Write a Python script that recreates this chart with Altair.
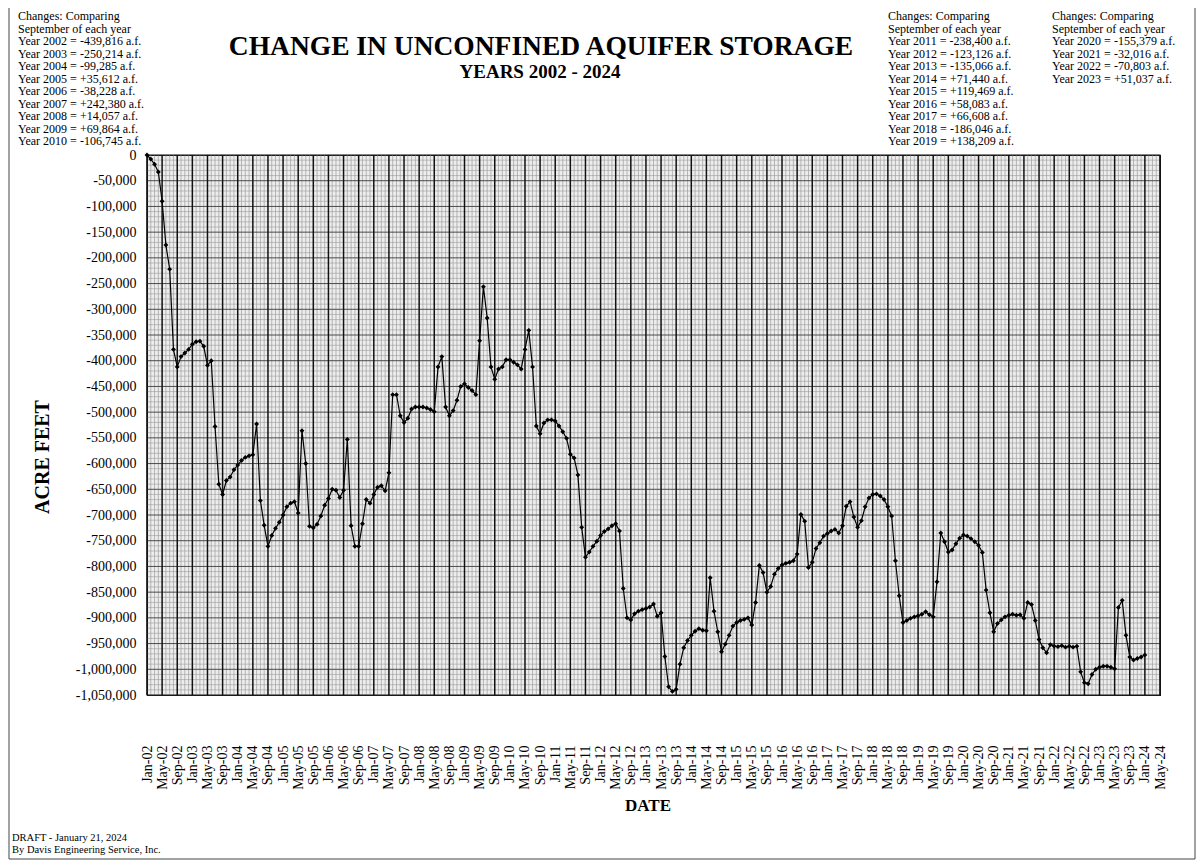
import json
import altair as alt
import pandas as pd

MONTHS = ["Jan", "Feb", "Mar", "Apr", "May", "Jun", "Jul", "Aug", "Sep", "Oct", "Nov", "Dec"]
FIRST_YEAR = 2002

# Cumulative change in storage, thousands of acre-feet, monthly from January of each year
Y2002 = [0, -8, -18, -33, -90, -175, -222, -378, -412, -392, -385, -378]
Y2003 = [-368, -363, -362, -372, -409, -400, -528, -640, -660, -633, -626, -612]
Y2004 = [-603, -594, -588, -585, -583, -523, -672, -720, -761, -740, -726, -714]
Y2005 = [-700, -684, -677, -674, -696, -536, -600, -722, -725, -718, -702, -681]
Y2006 = [-668, -650, -652, -666, -652, -553, -721, -761, -761, -717, -670, -677]
Y2007 = [-660, -646, -643, -653, -618, -466, -466, -507, -520, -512, -494, -490]
Y2008 = [-490, -490, -492, -495, -499, -412, -392, -490, -507, -497, -477, -450]
Y2009 = [-445, -452, -458, -466, -361, -256, -317, -412, -436, -416, -412, -398]
Y2010 = [-398, -403, -408, -416, -378, -341, -412, -527, -542, -521, -515, -515]
Y2011 = [-517, -527, -538, -551, -582, -589, -622, -724, -782, -772, -761, -751]
Y2012 = [-740, -732, -727, -721, -717, -731, -843, -900, -904, -892, -887, -884]
Y2013 = [-882, -879, -873, -897, -890, -975, -1034, -1043, -1039, -990, -958, -944]
Y2014 = [-934, -926, -921, -924, -925, -822, -887, -927, -966, -951, -934, -916]
Y2015 = [-909, -905, -903, -900, -914, -870, -798, -812, -850, -839, -815, -804]
Y2016 = [-797, -794, -792, -789, -776, -699, -712, -802, -792, -765, -754, -741]
Y2017 = [-736, -731, -728, -735, -721, -683, -674, -704, -724, -711, -684, -667]
Y2018 = [-660, -659, -663, -670, -684, -702, -789, -857, -909, -905, -901, -898]
Y2019 = [-896, -893, -888, -894, -898, -830, -735, -752, -772, -768, -756, -745]
Y2020 = [-739, -741, -746, -752, -759, -773, -846, -890, -927, -911, -904, -898]
Y2021 = [-895, -893, -895, -894, -901, -870, -874, -905, -942, -958, -968, -952]
Y2022 = [-955, -956, -954, -957, -955, -957, -955, -1005, -1026, -1028, -1010, -1000]
Y2023 = [-996, -994, -994, -996, -999, -880, -866, -934, -976, -982, -979, -976]
Y2024 = [-972]

YEARS = [Y2002, Y2003, Y2004, Y2005, Y2006, Y2007, Y2008, Y2009, Y2010, Y2011, Y2012,
         Y2013, Y2014, Y2015, Y2016, Y2017, Y2018, Y2019, Y2020, Y2021, Y2022, Y2023, Y2024]

LAST_MONTH = 268  # May-24, right edge of the axis
X_TICKS = list(range(0, LAST_MONTH + 1, 4))
TICK_LABELS = [f"{MONTHS[i % 12]}-{(FIRST_YEAR + i // 12) % 100:02d}" for i in X_TICKS]
Y_TICKS = list(range(0, -1050001, -50000))
Y_MINOR = [-i * 10000 for i in range(1, 105) if i % 5]
X_MINOR = [i for i in range(1, LAST_MONTH) if i % 4]

TITLE = "CHANGE IN UNCONFINED AQUIFER STORAGE"
SUBTITLE = "YEARS 2002 - 2024"
Y_TITLE = "ACRE FEET"
X_TITLE = "DATE"

NOTE_LEFT = ["Changes: Comparing", "September of each year",
             "Year 2002 = -439,816 a.f.", "Year 2003 = -250,214 a.f.",
             "Year 2004 =  -99,285 a.f.", "Year 2005 =  +35,612 a.f.",
             "Year 2006 =  -38,228 a.f.", "Year 2007 = +242,380 a.f.",
             "Year 2008 = +14,057 a.f.", "Year 2009 = +69,864 a.f.",
             "Year 2010 = -106,745 a.f."]
NOTE_MID = ["Changes: Comparing", "September of each year",
            " Year 2011 = -238,400 a.f.", " Year 2012 = -123,126 a.f.",
            " Year 2013 = -135,066 a.f.", " Year 2014 = +71,440 a.f.",
            " Year 2015 = +119,469 a.f.", " Year 2016 = +58,083 a.f.",
            " Year 2017 = +66,608 a.f.", " Year 2018 = -186,046 a.f.",
            " Year 2019 = +138,209 a.f."]
NOTE_RIGHT = ["Changes: Comparing", "September of each year",
              " Year 2020 = -155,379 a.f.", " Year 2021 = -32,016 a.f.",
              " Year 2022 = -70,803 a.f.", " Year 2023 = +51,037 a.f."]
FOOTER = ["DRAFT - January 21, 2024", "By Davis Engineering Service, Inc."]

FONT = "Liberation Serif"

storage = [v * 1000 for yr in YEARS for v in yr]
df = pd.DataFrame({"m": list(range(len(storage))), "v": storage})

x_scale = alt.Scale(domain=[0, LAST_MONTH], nice=False, zero=False)
y_scale = alt.Scale(domain=[-1050000, 0], nice=False, zero=False)

x_axis = alt.Axis(values=X_TICKS, labelExpr=json.dumps(TICK_LABELS) + "[round(datum.value / 4)]",
                  labelAngle=270, labelFont=FONT, labelFontSize=14, labelColor="black",
                  labelPadding=50, ticks=False, domain=False, grid=False,
                  labelOverlap=False, labelFlush=False, labelBound=False, title=None)
y_axis = alt.Axis(values=Y_TICKS,
                  labelExpr="(datum.value < 0 ? '-' : '') + format(abs(datum.value), ',')",
                  labelFont=FONT, labelFontSize=14, labelColor="black", labelPadding=11,
                  ticks=False, domain=False, grid=False, labelOverlap=False,
                  labelFlush=False, labelBound=False, title=None)

minor_v = alt.Chart(pd.DataFrame({"m": X_MINOR})).mark_rule(color="#8f8f8f", strokeWidth=0.6).encode(
    x=alt.X("m:Q", scale=x_scale, axis=x_axis))
minor_h = alt.Chart(pd.DataFrame({"v": Y_MINOR})).mark_rule(color="#9a9a9a", strokeWidth=0.6).encode(
    y=alt.Y("v:Q", scale=y_scale, axis=y_axis))
major_h = alt.Chart(pd.DataFrame({"v": Y_TICKS})).mark_rule(color="#3a3a3a", strokeWidth=0.9).encode(
    y=alt.Y("v:Q", scale=y_scale, axis=y_axis))
major_v = alt.Chart(pd.DataFrame({"m": X_TICKS})).mark_rule(color="#111111", strokeWidth=1.5).encode(
    x=alt.X("m:Q", scale=x_scale, axis=x_axis))

base = alt.Chart(df).encode(
    x=alt.X("m:Q", scale=x_scale, axis=x_axis),
    y=alt.Y("v:Q", scale=y_scale, axis=y_axis),
)
line = base.mark_line(color="black", strokeWidth=1.2)
points = base.mark_point(shape="diamond", filled=True, color="black", size=24, opacity=1)


def text_layer(lines, x, y, size, weight="normal", align="left", baseline="top", angle=0, line_height=None):
    props = dict(font=FONT, fontSize=size, fontWeight=weight, align=align, baseline=baseline,
                 color="black", lineBreak="\n")
    if angle:
        props["angle"] = angle
    if line_height:
        props["lineHeight"] = line_height
    return alt.Chart(pd.DataFrame({"t": ["\n".join(lines)]})).mark_text(**props).encode(
        text="t:N", x=alt.value(x), y=alt.value(y))


title = text_layer([TITLE], 394, -108, 27.5, "bold", "center", "middle")
subtitle = text_layer([SUBTITLE], 393, -83, 19, "bold", "center", "middle")
ytitle = text_layer([Y_TITLE], -104, 302, 20, "bold", "center", "middle", angle=270)
xtitle = text_layer([X_TITLE], 501, 651, 17, "bold", "center", "middle")
note_l = text_layer(NOTE_LEFT, -129, -144, 12, line_height=12.5)
note_m = text_layer(NOTE_MID, 741, -144, 12, line_height=12.5)
note_r = text_layer(NOTE_RIGHT, 905, -144, 12, line_height=12.5)
footer = text_layer(FOOTER, -135, 678, 10.5, line_height=12)

frame_left = alt.Chart(pd.DataFrame({"k": [0]})).mark_rule(color="#444444", strokeWidth=1).encode(
    x=alt.value(-138), y=alt.value(-147), y2=alt.value(704))
frame_right = alt.Chart(pd.DataFrame({"k": [0]})).mark_rule(color="#444444", strokeWidth=1).encode(
    x=alt.value(1048), y=alt.value(-147), y2=alt.value(704))
frame_bottom = alt.Chart(pd.DataFrame({"k": [0]})).mark_rule(color="#444444", strokeWidth=1).encode(
    x=alt.value(-138), x2=alt.value(1048), y=alt.value(704))

chart = alt.layer(
    minor_v, minor_h, major_h, major_v, line, points,
    title, subtitle, ytitle, xtitle, note_l, note_m, note_r, footer,
    frame_left, frame_right, frame_bottom,
).properties(
    width=1013, height=540,
    padding={"left": 139, "top": 147, "right": 36, "bottom": 165},
    autosize=alt.AutoSizeParams(type="none"),
    background="white",
).configure_view(
    stroke="black", strokeWidth=1.2, fill="#ededed"
).configure_axis(
    labelOverlap=False
)

chart.save("out.html", embed_options={"renderer": "svg", "actions": False})
